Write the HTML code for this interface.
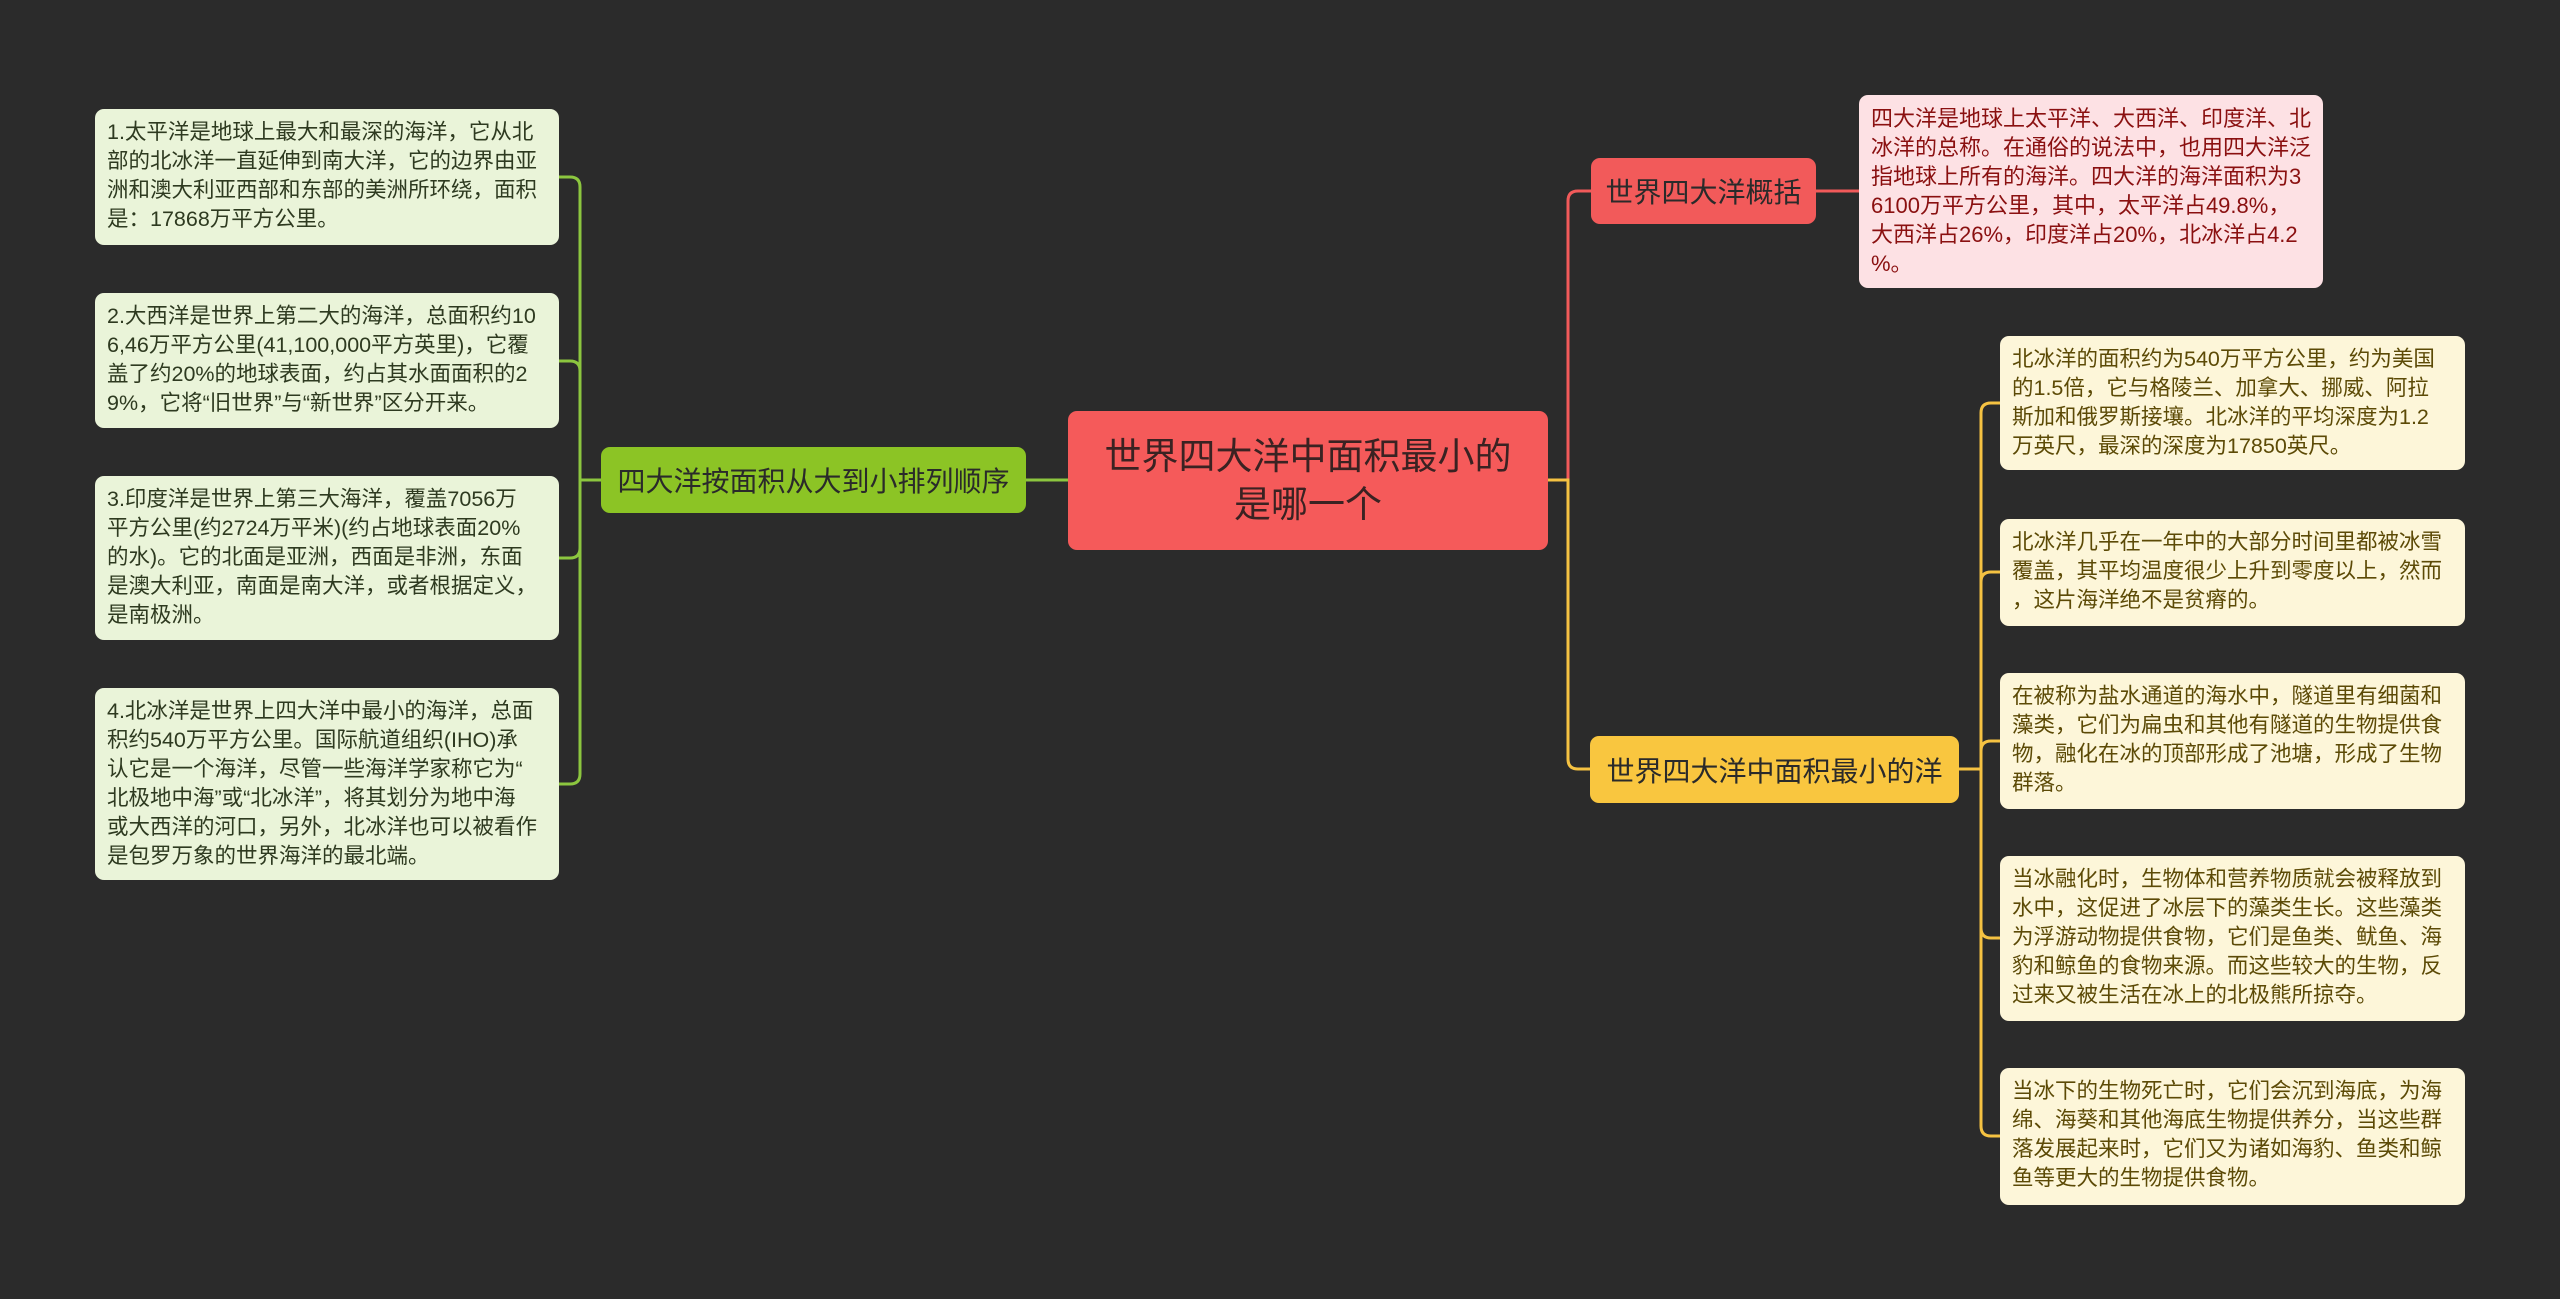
<!DOCTYPE html>
<html><head><meta charset="utf-8"><style>
html,body{margin:0;padding:0;background:#2b2b2b;width:2560px;height:1299px;overflow:hidden}
.n{position:absolute;box-sizing:border-box;border-radius:9px;font-family:"Liberation Sans","Noto Sans CJK SC",sans-serif;white-space:nowrap}
.d{font-size:21.5px;line-height:29px;padding:9px 0 0 12px}
.g{background:#eaf4d9;color:#2e3a20}
.r{background:#fde1e4;color:#8a1010}
.y{background:#fdf6d9;color:#5c4a06}
.b{font-size:28px;display:flex;align-items:center;justify-content:center;color:#2a2a2a}
</style></head><body>
<svg width="2560" height="1299" style="position:absolute;left:0;top:0" fill="none" stroke-width="3">
<g stroke="#8cc63f">
<path d="M1069 480H1026"/><path d="M601 480H580"/>
<path d="M559 177H570Q580 177 580 187V774Q580 784 570 784H559"/>
<path d="M559 361H570Q580 361 580 371"/><path d="M559 558H570Q580 558 580 548"/>
</g>
<g stroke="#f25a5a"><path d="M1548 480H1568V201Q1568 191 1578 191H1591"/><path d="M1816 191H1859"/></g>
<g stroke="#f5c242"><path d="M1548 480H1568V759Q1568 769 1578 769H1590"/><path d="M1959 769H1981"/>
<path d="M2000 403H1991Q1981 403 1981 413V1126Q1981 1136 1991 1136H2000"/>
<path d="M2000 572H1991Q1981 572 1981 582"/><path d="M2000 741H1991Q1981 741 1981 751"/><path d="M2000 938H1991Q1981 938 1981 928"/>
</g></svg>

<div class="n g d" style="left:95px;top:109px;width:464px;height:136px">1.太平洋是地球上最大和最深的海洋，它从北<br>部的北冰洋一直延伸到南大洋，它的边界由亚<br>洲和澳大利亚西部和东部的美洲所环绕，面积<br>是：17868万平方公里。</div>
<div class="n g d" style="left:95px;top:293px;width:464px;height:135px">2.大西洋是世界上第二大的海洋，总面积约10<br>6,46万平方公里(41,100,000平方英里)，它覆<br>盖了约20%的地球表面，约占其水面面积的2<br>9%，它将“旧世界”与“新世界”区分开来。</div>
<div class="n g d" style="left:95px;top:476px;width:464px;height:164px">3.印度洋是世界上第三大海洋，覆盖7056万<br>平方公里(约2724万平米)(约占地球表面20%<br>的水)。它的北面是亚洲，西面是非洲，东面<br>是澳大利亚，南面是南大洋，或者根据定义，<br>是南极洲。</div>
<div class="n g d" style="left:95px;top:688px;width:464px;height:192px">4.北冰洋是世界上四大洋中最小的海洋，总面<br>积约540万平方公里。国际航道组织(IHO)承<br>认它是一个海洋，尽管一些海洋学家称它为“<br>北极地中海”或“北冰洋”，将其划分为地中海<br>或大西洋的河口，另外，北冰洋也可以被看作<br>是包罗万象的世界海洋的最北端。</div>

<div class="n b" style="left:601px;top:447px;width:425px;height:66px;background:#8cc425">四大洋按面积从大到小排列顺序</div>
<div class="n b" style="left:1068px;top:411px;width:480px;height:139px;background:#f55a5a;font-size:37px;line-height:48px;text-align:center;color:#3a2222">世界四大洋中面积最小的<br>是哪一个</div>
<div class="n b" style="left:1591px;top:158px;width:225px;height:66px;background:#f25a5a">世界四大洋概括</div>
<div class="n b" style="left:1590px;top:736px;width:369px;height:67px;background:#f9c63f">世界四大洋中面积最小的洋</div>

<div class="n r d" style="left:1859px;top:95px;width:464px;height:193px;font-size:22px">四大洋是地球上太平洋、大西洋、印度洋、北<br>冰洋的总称。在通俗的说法中，也用四大洋泛<br>指地球上所有的海洋。四大洋的海洋面积为3<br>6100万平方公里，其中，太平洋占49.8%，<br>大西洋占26%，印度洋占20%，北冰洋占4.2<br>%。</div>

<div class="n y d" style="left:2000px;top:336px;width:465px;height:134px">北冰洋的面积约为540万平方公里，约为美国<br>的1.5倍，它与格陵兰、加拿大、挪威、阿拉<br>斯加和俄罗斯接壤。北冰洋的平均深度为1.2<br>万英尺，最深的深度为17850英尺。</div>
<div class="n y d" style="left:2000px;top:519px;width:465px;height:107px">北冰洋几乎在一年中的大部分时间里都被冰雪<br>覆盖，其平均温度很少上升到零度以上，然而<br>，这片海洋绝不是贫瘠的。</div>
<div class="n y d" style="left:2000px;top:673px;width:465px;height:136px">在被称为盐水通道的海水中，隧道里有细菌和<br>藻类，它们为扁虫和其他有隧道的生物提供食<br>物，融化在冰的顶部形成了池塘，形成了生物<br>群落。</div>
<div class="n y d" style="left:2000px;top:856px;width:465px;height:165px">当冰融化时，生物体和营养物质就会被释放到<br>水中，这促进了冰层下的藻类生长。这些藻类<br>为浮游动物提供食物，它们是鱼类、鱿鱼、海<br>豹和鲸鱼的食物来源。而这些较大的生物，反<br>过来又被生活在冰上的北极熊所掠夺。</div>
<div class="n y d" style="left:2000px;top:1068px;width:465px;height:137px">当冰下的生物死亡时，它们会沉到海底，为海<br>绵、海葵和其他海底生物提供养分，当这些群<br>落发展起来时，它们又为诸如海豹、鱼类和鲸<br>鱼等更大的生物提供食物。</div>
</body></html>
